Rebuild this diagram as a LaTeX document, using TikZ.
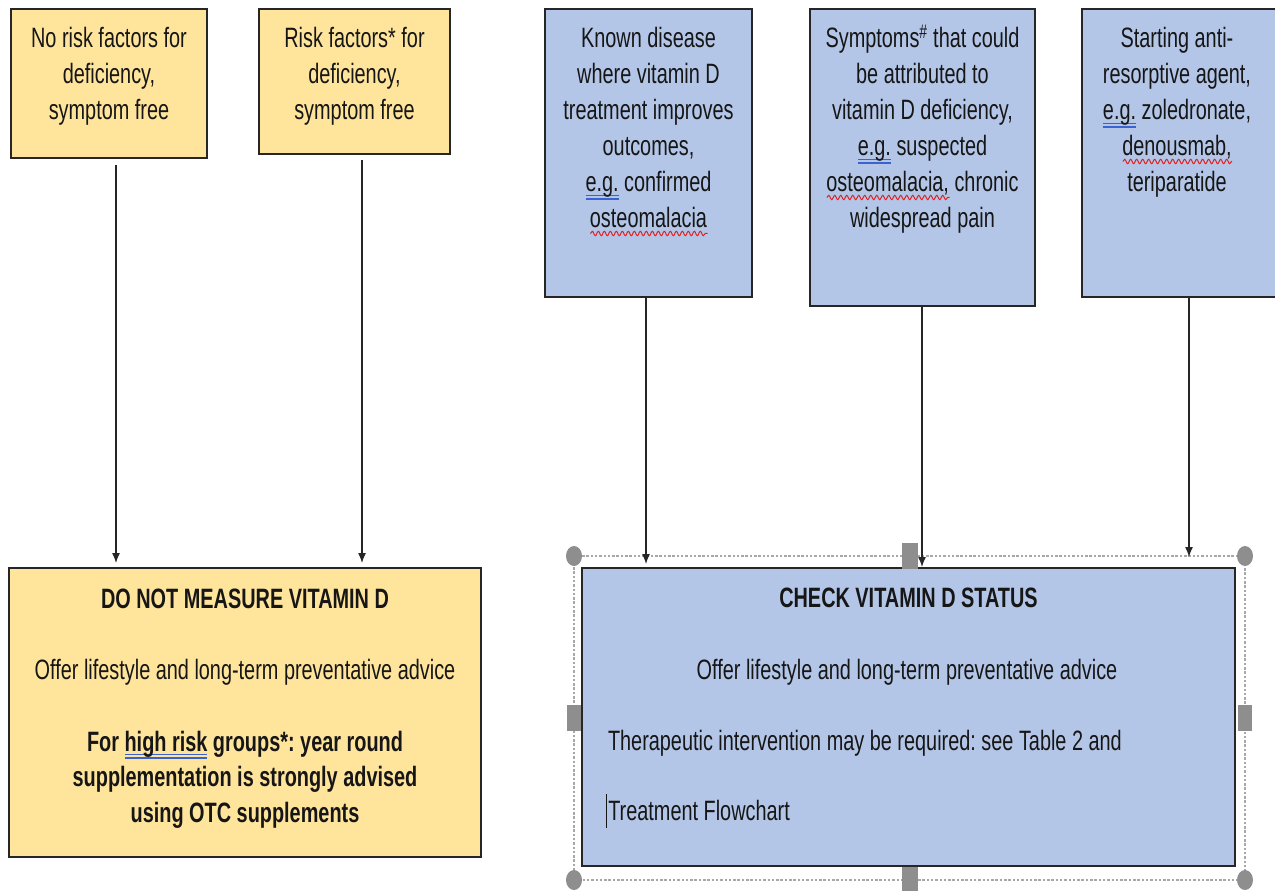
\documentclass[tikz,border=0pt]{standalone}
\usepackage{fontspec}
\setmainfont[FakeStretch=0.71]{Liberation Sans}
\usetikzlibrary{arrows.meta,shapes.geometric,decorations.pathmorphing}
\frenchspacing
\definecolor{ylw}{HTML}{FFE49C}
\definecolor{blu}{HTML}{B4C6E7}
\definecolor{edge}{HTML}{262626}
\definecolor{txtc}{HTML}{161616}
\definecolor{ulblue}{HTML}{3A62D0}
\definecolor{ulred}{HTML}{E02020}
\definecolor{hgray}{HTML}{8E8E8E}
\definecolor{dgray}{HTML}{A8A8A8}
\newsavebox\ulbox
\newcommand\bdl[1]{\leavevmode\sbox\ulbox{#1}\rlap{\color{ulblue}\rule[-3.8pt]{\wd\ulbox}{1.2pt}}\rlap{\color{ulblue}\rule[-7.6pt]{\wd\ulbox}{1.2pt}}#1}
\newcommand\rwv[1]{\leavevmode\sbox\ulbox{#1}\rlap{\raisebox{-5.5pt}{\tikz[baseline=0pt]\draw[ulred,line width=1pt,decorate,decoration={snake,amplitude=2.2pt,segment length=6pt}] (0pt,0pt) -- (\the\wd\ulbox,0pt);}}#1}
\newcommand\cursorbar{\leavevmode\rule[-8pt]{0.8pt}{34pt}\kern1.5pt}
\begin{document}
\begin{tikzpicture}[x=1pt,y=-1pt,
  box/.style={draw=edge,line width=1.8pt,inner sep=0pt,outer sep=0pt},
  ybox/.style={box,fill=ylw},
  bbox/.style={box,fill=blu},
  txt/.style={inner sep=0pt,outer sep=0pt,text=txtc,font=\fontsize{28}{36}\selectfont,align=flush center},
  btxt/.style={txt,font=\fontsize{28}{35.5}\selectfont\bfseries},
  arr/.style={-{Latex[length=10pt,width=8pt]},line width=1.3pt,draw=black!85},
  selframe/.style={draw=dgray,line width=1.4pt,dash pattern=on 2.5pt off 1.8pt,inner sep=0pt,outer sep=0pt},
  hcirc/.style={ellipse,fill=hgray,minimum width=16,minimum height=20,inner sep=0pt},
  hsq/.style={rectangle,fill=hgray,minimum width=16,minimum height=26,inner sep=0pt}]
\useasboundingbox (0,0) rectangle (1275,891);
\fill[white] (0,0) rectangle (1275,891);
% top boxes
\node[ybox,minimum width=196,minimum height=149] (a) at (109,83.5) {};
\node[ybox,minimum width=191,minimum height=145] (b) at (354.5,81.5) {};
\node[bbox,minimum width=207,minimum height=288] (c) at (648.5,153) {};
\node[bbox,minimum width=225,minimum height=297] (d) at (922.5,157.5) {};
\node[bbox,minimum width=198,minimum height=288] (e) at (1181,153) {};
\node[txt,text width=240,anchor=base] (ta) at (109,48) {No risk factors for\\deficiency,\\symptom free};
\node[txt,text width=240,anchor=base] (tb) at (354.5,48) {Risk factors* for\\deficiency,\\symptom free};
\node[txt,text width=240,anchor=base] (tc) at (648.5,48) {Known disease\\where vitamin D\\treatment improves\\outcomes,\\\bdl{e.g.} confirmed\\\rwv{osteomalacia}};
\node[txt,text width=260,anchor=base] (td) at (922.5,48) {Symptoms\textsuperscript{\#} that could\\be attributed to\\vitamin D deficiency,\\\bdl{e.g.} suspected\\\rwv{osteomalacia,} chronic\\widespread pain};
\node[txt,text width=240,anchor=base] (te) at (1177,48) {Starting anti-\\resorptive agent,\\\bdl{e.g.} zoledronate,\\\rwv{denousmab,}\\teriparatide};
% bottom left box
\node[ybox,minimum width=472,minimum height=289] (f) at (245,712.5) {};
\node[btxt,anchor=base] (tf1) at (245,608) {DO NOT MEASURE VITAMIN D};
\node[txt,anchor=base] (tf2) at (245,679) {Offer lifestyle and long-term preventative advice};
\node[btxt,text width=460,anchor=base] (tf3) at (245,751) {For \bdl{high risk} groups*: year round\\supplementation is strongly advised\\using OTC supplements};
% bottom right box with selection frame
\node[selframe,minimum width=671,minimum height=324] (sel) at (909.5,718) {};
\node[bbox,minimum width=653,minimum height=298] (g) at (908.5,717) {};
\node[btxt,anchor=base] (tg1) at (908.5,607) {CHECK VITAMIN D STATUS};
\node[txt,anchor=base] (tg2) at (907,679) {Offer lifestyle and long-term preventative advice};
\node[txt,anchor=base west] (tg3) at (608,750) {Therapeutic intervention may be required: see Table 2 and};
\node[txt,anchor=base west] (tg4) at (606,820) {\cursorbar Treatment Flowchart};
% selection handles
\node[hcirc] (h1) at (sel.north west) {};
\node[hcirc] (h2) at (sel.north east) {};
\node[hcirc] (h3) at (sel.south west) {};
\node[hcirc] (h4) at (sel.south east) {};
\node[hsq] (h5) at (sel.north) {};
\node[hsq] (h6) at (sel.south) {};
\node[hsq,minimum width=14] (h7) at (sel.west) {};
\node[hsq,minimum width=14] (h8) at (sel.east) {};
% connectors
\draw[arr] ([xshift=7pt,yshift=-7pt]a.south) -- ([xshift=-129pt,yshift=5pt]f.north);
\draw[arr] ([xshift=7.5pt,yshift=-6pt]b.south) -- ([xshift=117pt,yshift=5pt]f.north);
\draw[arr] ([xshift=-2.5pt]c.south) -- ([xshift=-262.5pt,yshift=4pt]g.north);
\draw[arr] ([xshift=-0.5pt]d.south) -- ([xshift=13.5pt,yshift=1pt]g.north);
\draw[arr] ([xshift=8pt]e.south) -- ([xshift=280.5pt,yshift=11pt]g.north);
\end{tikzpicture}
\end{document}
